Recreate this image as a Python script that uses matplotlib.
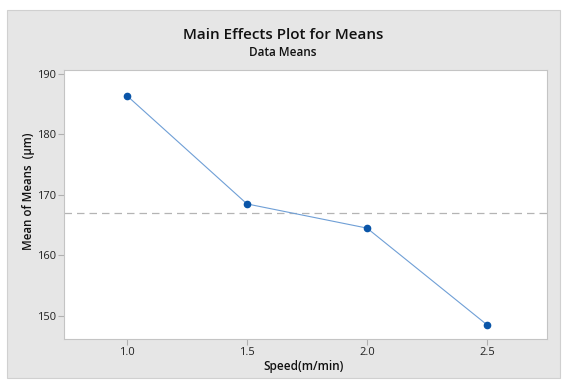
import matplotlib
matplotlib.use("Agg")
import matplotlib.pyplot as plt
from matplotlib.patches import Rectangle
import numpy as np

speed = [1.0, 1.5, 2.0, 2.5]
means = [186.4, 168.5, 164.5, 148.5]
yticks = [150, 160, 170, 180, 190]
xticks = [1.0, 1.5, 2.0, 2.5]

plt.rcParams['font.family'] = ['Open Sans', 'DejaVu Sans']

fig = plt.figure(figsize=(5.66, 3.80), dpi=100)
fig.patch.set_facecolor('white')
# grey panel behind the chart
fig.patches.append(Rectangle((7 / 566, 1 - 378 / 380), 553 / 566, 368 / 380,
                             transform=fig.transFigure, facecolor='#e6e6e6',
                             edgecolor='#d0d0d0', linewidth=0.8, zorder=-5))

ax = fig.add_axes([64 / 566, 1 - 339 / 380, 483 / 566, 269 / 380])
ax.set_zorder(2)
ax.set_facecolor('white')

grand_mean = np.mean(means)
ax.axhline(grand_mean, color='#b4b4b4', linestyle=(0, (6, 4)), linewidth=0.9, zorder=1)
ax.plot(speed, means, color='#6f9fd6', linewidth=0.8, zorder=2)
ax.plot(speed, means, 'o', color='#0a55a8', markersize=4.5, zorder=3)

ax.set_xlim(0.7375, 2.75)
ax.set_ylim(146.15, 190.66)
ax.set_xticks(xticks)
ax.set_xticklabels(['%.1f' % v for v in xticks])
ax.set_yticks(yticks)

for s in ax.spines.values():
    s.set_color('#c4c4c4')
    s.set_linewidth(0.8)
ax.tick_params(colors='#b0b0b0', labelcolor='#222222', labelsize=8, length=4, width=0.8, pad=2)

ax.set_xlabel('Speed(m/min)', fontsize=8.5, fontweight='semibold', color='#111111')
ax.set_ylabel('Mean of Means  (µm)', fontsize=8.3, fontweight='semibold', color='#111111')
ax.xaxis.label.set_va('center')
ax.yaxis.label.set_va('center')
ax.xaxis.set_label_coords(0.497, -0.104)
ax.yaxis.set_label_coords(-0.0725, 0.55)

fig.text(0.5, 1 - 35 / 380, 'Main Effects Plot for Means', ha='center', va='center',
         fontsize=11, fontweight='semibold', color='#111111')
fig.text(0.5, 1 - 53 / 380, 'Data Means', ha='center', va='center',
         fontsize=8.5, fontweight='semibold', color='#111111')

fig.savefig('out.png', dpi=100, facecolor=fig.get_facecolor())
